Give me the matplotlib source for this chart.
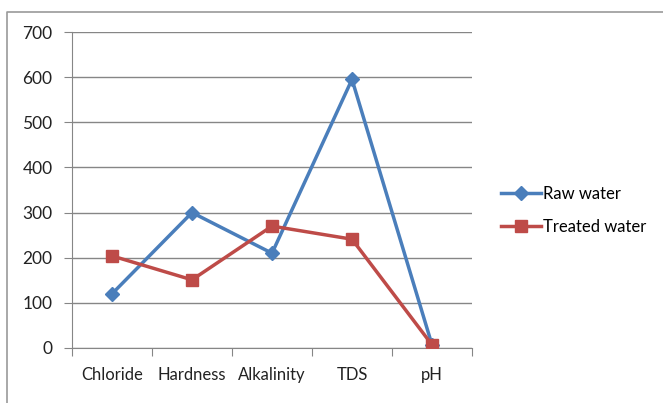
import matplotlib
matplotlib.use("Agg")
import matplotlib.pyplot as plt
from matplotlib.lines import Line2D

categories = ["Chloride", "Hardness", "Alkalinity", "TDS", "pH"]
raw_water = [120, 300, 210, 595, 7]
treated_water = [204, 151, 270, 241, 7]
y_ticks = [0, 100, 200, 300, 400, 500, 600, 700]

plt.rcParams['font.family'] = ['Lato', 'DejaVu Sans']

W, H = 663, 403
fig = plt.figure(figsize=(W / 100, H / 100), dpi=100)
ax = fig.add_axes([72 / W, (H - 348) / H, 400 / W, 316 / H])

# spreadsheet chart frame (left and top border)
fig.add_artist(Line2D([7 / W, 7 / W, 1], [0, 1 - 12 / H, 1 - 12 / H],
                      transform=fig.transFigure, color="#9a9a9a", lw=1.2))

x = list(range(1, len(categories) + 1))
ax.plot(x, raw_water, color="#4A7EBB", lw=2.5, marker="D", ms=7,
        label="Raw water", zorder=3)
ax.plot(x, treated_water, color="#BE4B48", lw=2.5, marker="s", ms=8.5,
        label="Treated water", zorder=3)

ax.set_xlim(0.5, len(categories) + 0.5)
ax.set_ylim(0, 700)
ax.set_yticks(y_ticks)
ax.set_xticks([i + 0.5 for i in range(0, len(categories) + 1)])
ax.set_xticklabels([])
ax.set_xticks(x, minor=True)
ax.set_xticklabels(categories, minor=True, fontsize=12, color="#222222")
ax.tick_params(axis="x", which="minor", length=0, pad=14)
ax.tick_params(axis="x", which="major", length=6, color="#868686", direction="out")
ax.tick_params(axis="y", length=6, color="#868686", labelsize=12.5,
               labelcolor="#222222", pad=8)

ax.grid(axis="y", color="#868686", lw=1)
ax.set_axisbelow(True)
for s in ["top", "right"]:
    ax.spines[s].set_visible(False)
for s in ["left", "bottom"]:
    ax.spines[s].set_color("#868686")

ax.legend(loc="center left", bbox_to_anchor=(1.035, 0.435), frameon=False,
          fontsize=12, handlelength=2.4, labelspacing=1.0, handletextpad=0.1)

fig.savefig("out.png", dpi=100)
